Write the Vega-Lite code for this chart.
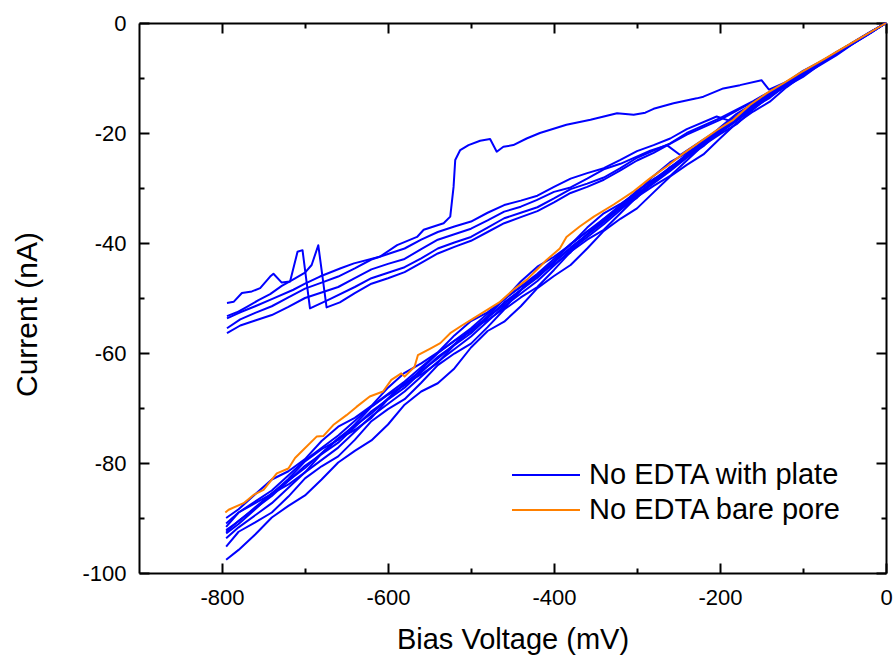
{
 "$schema": "https://vega.github.io/schema/vega-lite/v6.json",
 "width": 747,
 "height": 550,
 "autosize": {"type": "none"},
 "padding": {"left": 139, "top": 23, "right": 9, "bottom": 82},
 "background": "white",
 "config": {
  "view": {"stroke": null},
  "font": "Liberation Sans",
  "axis": {
   "grid": false,
   "domainColor": "#000000",
   "domainWidth": 2,
   "tickColor": "#000000",
   "tickWidth": 2,
   "labelFont": "Liberation Sans",
   "labelFontSize": 22,
   "labelColor": "#000000",
   "labelFlush": false,
   "labelOverlap": false,
   "labelBound": false,
   "titleFont": "Liberation Sans",
   "titleFontWeight": "normal",
   "titleColor": "#000000"
  }
 },
 "datasets": {
  "plate": [
   {"s":"B1","v":0,"i":0},{"s":"B1","v":-20,"i":-1.7},{"s":"B1","v":-40,"i":-3.5},{"s":"B1","v":-60,"i":-5.5},{"s":"B1","v":-80,"i":-7.1},{"s":"B1","v":-100,"i":-8.7},{"s":"B1","v":-120,"i":-10.8},{"s":"B1","v":-140,"i":-13.1},{"s":"B1","v":-160,"i":-14.7},{"s":"B1","v":-180,"i":-16.5},{"s":"B1","v":-200,"i":-19.0},{"s":"B1","v":-220,"i":-21.7},{"s":"B1","v":-240,"i":-23.6},{"s":"B1","v":-260,"i":-25.3},{"s":"B1","v":-280,"i":-27.8},{"s":"B1","v":-300,"i":-30.8},{"s":"B1","v":-320,"i":-32.9},{"s":"B1","v":-340,"i":-34.6},{"s":"B1","v":-360,"i":-37.2},{"s":"B1","v":-380,"i":-40.3},{"s":"B1","v":-400,"i":-42.5},{"s":"B1","v":-420,"i":-44.3},{"s":"B1","v":-440,"i":-47.0},{"s":"B1","v":-460,"i":-50.3},{"s":"B1","v":-480,"i":-52.6},{"s":"B1","v":-500,"i":-54.2},{"s":"B1","v":-520,"i":-56.8},{"s":"B1","v":-540,"i":-59.9},{"s":"B1","v":-560,"i":-61.9},{"s":"B1","v":-580,"i":-63.6},{"s":"B1","v":-600,"i":-66.3},{"s":"B1","v":-620,"i":-69.6},{"s":"B1","v":-640,"i":-71.8},{"s":"B1","v":-660,"i":-73.4},{"s":"B1","v":-680,"i":-76.0},{"s":"B1","v":-700,"i":-79.3},{"s":"B1","v":-720,"i":-81.5},{"s":"B1","v":-740,"i":-83.0},{"s":"B1","v":-760,"i":-85.7},{"s":"B1","v":-780,"i":-88.4},{"s":"B1","v":-795,"i":-90.0},
   {"s":"B2","v":0,"i":0},{"s":"B2","v":-20,"i":-1.8},{"s":"B2","v":-60,"i":-5.5},{"s":"B2","v":-100,"i":-9.1},{"s":"B2","v":-140,"i":-13.0},{"s":"B2","v":-180,"i":-17.3},{"s":"B2","v":-220,"i":-21.5},{"s":"B2","v":-260,"i":-26.3},{"s":"B2","v":-300,"i":-30.6},{"s":"B2","v":-340,"i":-35.6},{"s":"B2","v":-380,"i":-40.2},{"s":"B2","v":-420,"i":-45.6},{"s":"B2","v":-460,"i":-50.2},{"s":"B2","v":-500,"i":-55.5},{"s":"B2","v":-540,"i":-60.0},{"s":"B2","v":-580,"i":-65.2},{"s":"B2","v":-620,"i":-69.7},{"s":"B2","v":-660,"i":-75.0},{"s":"B2","v":-700,"i":-79.5},{"s":"B2","v":-740,"i":-85.0},{"s":"B2","v":-780,"i":-89.0},{"s":"B2","v":-795,"i":-91.0},
   {"s":"B3","v":0,"i":0},{"s":"B3","v":-20,"i":-1.9},{"s":"B3","v":-40,"i":-3.6},{"s":"B3","v":-60,"i":-5.3},{"s":"B3","v":-80,"i":-7.3},{"s":"B3","v":-100,"i":-9.5},{"s":"B3","v":-120,"i":-11.1},{"s":"B3","v":-140,"i":-12.9},{"s":"B3","v":-160,"i":-15.2},{"s":"B3","v":-180,"i":-17.7},{"s":"B3","v":-200,"i":-19.4},{"s":"B3","v":-220,"i":-21.5},{"s":"B3","v":-240,"i":-24.2},{"s":"B3","v":-260,"i":-26.8},{"s":"B3","v":-280,"i":-28.4},{"s":"B3","v":-300,"i":-30.5},{"s":"B3","v":-320,"i":-33.4},{"s":"B3","v":-340,"i":-36.1},{"s":"B3","v":-360,"i":-37.9},{"s":"B3","v":-380,"i":-40.2},{"s":"B3","v":-400,"i":-43.3},{"s":"B3","v":-420,"i":-46.2},{"s":"B3","v":-440,"i":-48.0},{"s":"B3","v":-460,"i":-50.2},{"s":"B3","v":-480,"i":-53.3},{"s":"B3","v":-500,"i":-56.1},{"s":"B3","v":-520,"i":-57.8},{"s":"B3","v":-540,"i":-60.0},{"s":"B3","v":-560,"i":-63.0},{"s":"B3","v":-580,"i":-65.9},{"s":"B3","v":-600,"i":-67.6},{"s":"B3","v":-620,"i":-69.8},{"s":"B3","v":-640,"i":-73.0},{"s":"B3","v":-660,"i":-75.8},{"s":"B3","v":-680,"i":-77.5},{"s":"B3","v":-700,"i":-79.7},{"s":"B3","v":-720,"i":-82.9},{"s":"B3","v":-740,"i":-85.6},{"s":"B3","v":-760,"i":-87.3},{"s":"B3","v":-780,"i":-89.0},{"s":"B3","v":-795,"i":-91.6},
   {"s":"B4","v":0,"i":0},{"s":"B4","v":-20,"i":-1.9},{"s":"B4","v":-60,"i":-5.5},{"s":"B4","v":-100,"i":-9.2},{"s":"B4","v":-140,"i":-13.2},{"s":"B4","v":-180,"i":-17.3},{"s":"B4","v":-220,"i":-22.0},{"s":"B4","v":-260,"i":-26.3},{"s":"B4","v":-300,"i":-31.2},{"s":"B4","v":-340,"i":-35.8},{"s":"B4","v":-380,"i":-41.0},{"s":"B4","v":-420,"i":-45.8},{"s":"B4","v":-460,"i":-51.2},{"s":"B4","v":-500,"i":-55.8},{"s":"B4","v":-540,"i":-61.0},{"s":"B4","v":-580,"i":-65.5},{"s":"B4","v":-620,"i":-71.0},{"s":"B4","v":-660,"i":-75.5},{"s":"B4","v":-700,"i":-80.9},{"s":"B4","v":-740,"i":-85.5},{"s":"B4","v":-780,"i":-90.6},{"s":"B4","v":-795,"i":-92.2},
   {"s":"B5","v":0,"i":0},{"s":"B5","v":-20,"i":-1.8},{"s":"B5","v":-40,"i":-3.7},{"s":"B5","v":-60,"i":-5.7},{"s":"B5","v":-80,"i":-7.4},{"s":"B5","v":-100,"i":-9.1},{"s":"B5","v":-120,"i":-11.2},{"s":"B5","v":-140,"i":-13.6},{"s":"B5","v":-160,"i":-15.4},{"s":"B5","v":-180,"i":-17.2},{"s":"B5","v":-200,"i":-19.7},{"s":"B5","v":-220,"i":-22.4},{"s":"B5","v":-240,"i":-24.4},{"s":"B5","v":-260,"i":-26.2},{"s":"B5","v":-280,"i":-28.8},{"s":"B5","v":-300,"i":-31.8},{"s":"B5","v":-320,"i":-33.8},{"s":"B5","v":-340,"i":-35.6},{"s":"B5","v":-360,"i":-38.4},{"s":"B5","v":-380,"i":-41.7},{"s":"B5","v":-400,"i":-43.9},{"s":"B5","v":-420,"i":-45.8},{"s":"B5","v":-440,"i":-48.6},{"s":"B5","v":-460,"i":-51.9},{"s":"B5","v":-480,"i":-54.0},{"s":"B5","v":-500,"i":-55.7},{"s":"B5","v":-520,"i":-58.5},{"s":"B5","v":-540,"i":-61.8},{"s":"B5","v":-560,"i":-63.9},{"s":"B5","v":-580,"i":-65.6},{"s":"B5","v":-600,"i":-68.4},{"s":"B5","v":-620,"i":-71.8},{"s":"B5","v":-640,"i":-74.0},{"s":"B5","v":-660,"i":-75.6},{"s":"B5","v":-680,"i":-78.3},{"s":"B5","v":-700,"i":-81.7},{"s":"B5","v":-720,"i":-83.9},{"s":"B5","v":-740,"i":-85.6},{"s":"B5","v":-760,"i":-88.4},{"s":"B5","v":-780,"i":-91.1},{"s":"B5","v":-795,"i":-92.8},
   {"s":"B6","v":0,"i":0},{"s":"B6","v":-20,"i":-1.9},{"s":"B6","v":-60,"i":-5.6},{"s":"B6","v":-100,"i":-9.3},{"s":"B6","v":-140,"i":-13.3},{"s":"B6","v":-180,"i":-17.8},{"s":"B6","v":-220,"i":-22.1},{"s":"B6","v":-260,"i":-26.9},{"s":"B6","v":-300,"i":-31.4},{"s":"B6","v":-340,"i":-36.6},{"s":"B6","v":-380,"i":-41.3},{"s":"B6","v":-420,"i":-46.9},{"s":"B6","v":-460,"i":-51.5},{"s":"B6","v":-500,"i":-57.0},{"s":"B6","v":-540,"i":-61.6},{"s":"B6","v":-580,"i":-67.0},{"s":"B6","v":-620,"i":-71.5},{"s":"B6","v":-660,"i":-77.2},{"s":"B6","v":-700,"i":-81.7},{"s":"B6","v":-740,"i":-87.3},{"s":"B6","v":-780,"i":-91.7},{"s":"B6","v":-795,"i":-93.7},
   {"s":"B7","v":0,"i":0},{"s":"B7","v":-20,"i":-2.0},{"s":"B7","v":-40,"i":-3.8},{"s":"B7","v":-60,"i":-5.5},{"s":"B7","v":-80,"i":-7.6},{"s":"B7","v":-100,"i":-9.8},{"s":"B7","v":-120,"i":-11.5},{"s":"B7","v":-140,"i":-13.3},{"s":"B7","v":-160,"i":-15.7},{"s":"B7","v":-180,"i":-18.4},{"s":"B7","v":-200,"i":-20.2},{"s":"B7","v":-220,"i":-22.2},{"s":"B7","v":-240,"i":-25.0},{"s":"B7","v":-260,"i":-27.8},{"s":"B7","v":-280,"i":-29.6},{"s":"B7","v":-300,"i":-31.6},{"s":"B7","v":-320,"i":-34.6},{"s":"B7","v":-340,"i":-37.6},{"s":"B7","v":-360,"i":-39.4},{"s":"B7","v":-380,"i":-41.6},{"s":"B7","v":-400,"i":-44.9},{"s":"B7","v":-420,"i":-48.0},{"s":"B7","v":-440,"i":-49.9},{"s":"B7","v":-460,"i":-52.1},{"s":"B7","v":-480,"i":-55.3},{"s":"B7","v":-500,"i":-58.3},{"s":"B7","v":-520,"i":-60.1},{"s":"B7","v":-540,"i":-62.2},{"s":"B7","v":-560,"i":-65.4},{"s":"B7","v":-580,"i":-68.4},{"s":"B7","v":-600,"i":-70.2},{"s":"B7","v":-620,"i":-72.4},{"s":"B7","v":-640,"i":-75.8},{"s":"B7","v":-660,"i":-78.8},{"s":"B7","v":-680,"i":-80.6},{"s":"B7","v":-700,"i":-82.8},{"s":"B7","v":-720,"i":-86.1},{"s":"B7","v":-740,"i":-89.0},{"s":"B7","v":-760,"i":-90.8},{"s":"B7","v":-780,"i":-92.5},{"s":"B7","v":-795,"i":-95.2},
   {"s":"B8","v":0,"i":0},{"s":"B8","v":-20,"i":-1.8},{"s":"B8","v":-60,"i":-5.5},{"s":"B8","v":-100,"i":-9.2},{"s":"B8","v":-140,"i":-13.2},{"s":"B8","v":-180,"i":-17.6},{"s":"B8","v":-220,"i":-21.8},{"s":"B8","v":-260,"i":-26.7},{"s":"B8","v":-300,"i":-31.0},{"s":"B8","v":-340,"i":-36.2},{"s":"B8","v":-380,"i":-40.8},{"s":"B8","v":-420,"i":-46.3},{"s":"B8","v":-460,"i":-50.8},{"s":"B8","v":-500,"i":-56.4},{"s":"B8","v":-540,"i":-60.7},{"s":"B8","v":-580,"i":-66.3},{"s":"B8","v":-620,"i":-70.6},{"s":"B8","v":-660,"i":-76.3},{"s":"B8","v":-700,"i":-80.5},{"s":"B8","v":-740,"i":-86.0},{"s":"B8","v":-780,"i":-90.5},{"s":"B8","v":-795,"i":-92.5},
   {"s":"B9","v":0,"i":0},{"s":"B9","v":-20,"i":-1.9},{"s":"B9","v":-40,"i":-3.8},{"s":"B9","v":-60,"i":-5.9},{"s":"B9","v":-80,"i":-7.7},{"s":"B9","v":-100,"i":-9.5},{"s":"B9","v":-120,"i":-11.7},{"s":"B9","v":-140,"i":-14.3},{"s":"B9","v":-160,"i":-16.1},{"s":"B9","v":-180,"i":-18.2},{"s":"B9","v":-200,"i":-21.0},{"s":"B9","v":-220,"i":-23.9},{"s":"B9","v":-240,"i":-25.8},{"s":"B9","v":-260,"i":-27.9},{"s":"B9","v":-280,"i":-30.8},{"s":"B9","v":-300,"i":-33.7},{"s":"B9","v":-320,"i":-35.6},{"s":"B9","v":-340,"i":-37.8},{"s":"B9","v":-360,"i":-41.0},{"s":"B9","v":-380,"i":-44.0},{"s":"B9","v":-400,"i":-46.0},{"s":"B9","v":-420,"i":-48.2},{"s":"B9","v":-440,"i":-51.5},{"s":"B9","v":-460,"i":-54.3},{"s":"B9","v":-480,"i":-56.0},{"s":"B9","v":-500,"i":-59.0},{"s":"B9","v":-520,"i":-62.8},{"s":"B9","v":-540,"i":-65.5},{"s":"B9","v":-560,"i":-67.0},{"s":"B9","v":-580,"i":-69.4},{"s":"B9","v":-600,"i":-73.0},{"s":"B9","v":-620,"i":-75.9},{"s":"B9","v":-640,"i":-77.8},{"s":"B9","v":-660,"i":-79.9},{"s":"B9","v":-680,"i":-83.0},{"s":"B9","v":-700,"i":-85.9},{"s":"B9","v":-720,"i":-87.8},{"s":"B9","v":-740,"i":-89.9},{"s":"B9","v":-760,"i":-93.0},{"s":"B9","v":-780,"i":-95.8},{"s":"B9","v":-795,"i":-97.6},
   {"s":"T","v":0,"i":0},{"s":"T","v":-40,"i":-3.6},{"s":"T","v":-80,"i":-7.2},{"s":"T","v":-120,"i":-10.7},{"s":"T","v":-141,"i":-12.1},{"s":"T","v":-150,"i":-10.4},{"s":"T","v":-176,"i":-11.3},{"s":"T","v":-196,"i":-11.9},{"s":"T","v":-220,"i":-13.4},{"s":"T","v":-228,"i":-13.7},{"s":"T","v":-256,"i":-14.6},{"s":"T","v":-280,"i":-15.6},{"s":"T","v":-290,"i":-16.3},{"s":"T","v":-304,"i":-16.7},{"s":"T","v":-324,"i":-16.4},{"s":"T","v":-340,"i":-17.0},{"s":"T","v":-356,"i":-17.6},{"s":"T","v":-385,"i":-18.5},{"s":"T","v":-417,"i":-20.0},{"s":"T","v":-433,"i":-21.0},{"s":"T","v":-449,"i":-22.2},{"s":"T","v":-461,"i":-22.5},{"s":"T","v":-469,"i":-23.4},{"s":"T","v":-477,"i":-21.1},{"s":"T","v":-489,"i":-21.4},{"s":"T","v":-503,"i":-22.2},{"s":"T","v":-513,"i":-23.1},{"s":"T","v":-519,"i":-24.9},{"s":"T","v":-521,"i":-29.8},{"s":"T","v":-525,"i":-35.2},{"s":"T","v":-533,"i":-36.4},{"s":"T","v":-557,"i":-37.6},{"s":"T","v":-565,"i":-38.9},{"s":"T","v":-589,"i":-40.4},{"s":"T","v":-610,"i":-42.5},{"s":"T","v":-641,"i":-43.7},{"s":"T","v":-657,"i":-44.6},{"s":"T","v":-682,"i":-46.1},{"s":"T","v":-700,"i":-47.4},{"s":"T","v":-714,"i":-48.5},{"s":"T","v":-740,"i":-50.2},{"s":"T","v":-760,"i":-51.5},{"s":"T","v":-778,"i":-52.6},{"s":"T","v":-794,"i":-53.7},
   {"s":"X1","v":0,"i":0},{"s":"X1","v":-40,"i":-3.6},{"s":"X1","v":-80,"i":-7.2},{"s":"X1","v":-120,"i":-10.9},{"s":"X1","v":-160,"i":-14.8},{"s":"X1","v":-188,"i":-17.8},{"s":"X1","v":-204,"i":-17.0},{"s":"X1","v":-240,"i":-19.3},{"s":"X1","v":-260,"i":-21.0},{"s":"X1","v":-280,"i":-22.2},{"s":"X1","v":-300,"i":-23.3},{"s":"X1","v":-320,"i":-24.9},{"s":"X1","v":-340,"i":-26.4},{"s":"X1","v":-360,"i":-27.3},{"s":"X1","v":-380,"i":-28.3},{"s":"X1","v":-400,"i":-29.8},{"s":"X1","v":-420,"i":-31.4},{"s":"X1","v":-440,"i":-32.3},{"s":"X1","v":-460,"i":-33.1},{"s":"X1","v":-480,"i":-34.5},{"s":"X1","v":-500,"i":-36.1},{"s":"X1","v":-520,"i":-37.0},{"s":"X1","v":-540,"i":-38.0},{"s":"X1","v":-560,"i":-39.4},{"s":"X1","v":-580,"i":-41.0},{"s":"X1","v":-600,"i":-42.0},{"s":"X1","v":-620,"i":-43.0},{"s":"X1","v":-640,"i":-44.6},{"s":"X1","v":-660,"i":-46.1},{"s":"X1","v":-680,"i":-47.2},{"s":"X1","v":-700,"i":-48.3},{"s":"X1","v":-720,"i":-49.9},{"s":"X1","v":-740,"i":-51.5},{"s":"X1","v":-760,"i":-52.7},{"s":"X1","v":-778,"i":-53.9},{"s":"X1","v":-794,"i":-55.5},
   {"s":"X2","v":0,"i":0},{"s":"X2","v":-40,"i":-3.6},{"s":"X2","v":-80,"i":-7.2},{"s":"X2","v":-120,"i":-10.8},{"s":"X2","v":-160,"i":-14.8},{"s":"X2","v":-200,"i":-19.2},{"s":"X2","v":-248,"i":-24.0},{"s":"X2","v":-264,"i":-22.2},{"s":"X2","v":-284,"i":-23.2},{"s":"X2","v":-320,"i":-25.6},{"s":"X2","v":-340,"i":-26.6},{"s":"X2","v":-360,"i":-28.3},{"s":"X2","v":-380,"i":-29.9},{"s":"X2","v":-400,"i":-30.7},{"s":"X2","v":-421,"i":-32.2},{"s":"X2","v":-440,"i":-33.4},{"s":"X2","v":-460,"i":-34.3},{"s":"X2","v":-480,"i":-35.9},{"s":"X2","v":-500,"i":-37.4},{"s":"X2","v":-520,"i":-38.4},{"s":"X2","v":-540,"i":-39.4},{"s":"X2","v":-560,"i":-41.1},{"s":"X2","v":-580,"i":-42.9},{"s":"X2","v":-600,"i":-43.8},{"s":"X2","v":-620,"i":-44.8},{"s":"X2","v":-640,"i":-46.4},{"s":"X2","v":-660,"i":-48.0},{"s":"X2","v":-680,"i":-49.0},{"s":"X2","v":-700,"i":-50.0},{"s":"X2","v":-720,"i":-51.6},{"s":"X2","v":-740,"i":-53.1},{"s":"X2","v":-760,"i":-54.1},{"s":"X2","v":-778,"i":-55.0},{"s":"X2","v":-794,"i":-56.4},
   {"s":"U1","v":0,"i":0},{"s":"U1","v":-40,"i":-3.6},{"s":"U1","v":-80,"i":-7.2},{"s":"U1","v":-120,"i":-10.8},{"s":"U1","v":-160,"i":-14.2},{"s":"U1","v":-200,"i":-17.3},{"s":"U1","v":-240,"i":-20.0},{"s":"U1","v":-260,"i":-21.9},{"s":"U1","v":-280,"i":-23.2},{"s":"U1","v":-300,"i":-24.5},{"s":"U1","v":-320,"i":-26.4},{"s":"U1","v":-340,"i":-28.1},{"s":"U1","v":-360,"i":-29.2},{"s":"U1","v":-380,"i":-30.2},{"s":"U1","v":-400,"i":-31.9},{"s":"U1","v":-420,"i":-33.5},{"s":"U1","v":-440,"i":-34.5},{"s":"U1","v":-460,"i":-35.5},{"s":"U1","v":-480,"i":-37.2},{"s":"U1","v":-500,"i":-38.9},{"s":"U1","v":-520,"i":-39.9},{"s":"U1","v":-540,"i":-41.0},{"s":"U1","v":-560,"i":-42.8},{"s":"U1","v":-580,"i":-44.4},{"s":"U1","v":-600,"i":-45.4},{"s":"U1","v":-620,"i":-46.4},{"s":"U1","v":-640,"i":-48.0},{"s":"U1","v":-670,"i":-50.2},{"s":"U1","v":-694,"i":-51.9},{"s":"U1","v":-703,"i":-41.3},{"s":"U1","v":-709,"i":-41.6},{"s":"U1","v":-718,"i":-47.0},{"s":"U1","v":-728,"i":-47.2},{"s":"U1","v":-738,"i":-45.6},{"s":"U1","v":-742,"i":-46.1},{"s":"U1","v":-754,"i":-48.2},{"s":"U1","v":-764,"i":-48.8},{"s":"U1","v":-776,"i":-49.1},{"s":"U1","v":-786,"i":-50.7},{"s":"U1","v":-794,"i":-50.9},
   {"s":"U2","v":0,"i":0},{"s":"U2","v":-40,"i":-3.6},{"s":"U2","v":-80,"i":-7.2},{"s":"U2","v":-120,"i":-10.8},{"s":"U2","v":-160,"i":-14.3},{"s":"U2","v":-200,"i":-17.6},{"s":"U2","v":-240,"i":-20.3},{"s":"U2","v":-280,"i":-23.6},{"s":"U2","v":-300,"i":-25.0},{"s":"U2","v":-320,"i":-26.8},{"s":"U2","v":-340,"i":-28.5},{"s":"U2","v":-360,"i":-29.8},{"s":"U2","v":-380,"i":-30.9},{"s":"U2","v":-400,"i":-32.6},{"s":"U2","v":-420,"i":-34.2},{"s":"U2","v":-440,"i":-35.3},{"s":"U2","v":-460,"i":-36.4},{"s":"U2","v":-480,"i":-38.0},{"s":"U2","v":-500,"i":-39.6},{"s":"U2","v":-520,"i":-40.7},{"s":"U2","v":-540,"i":-41.9},{"s":"U2","v":-560,"i":-43.6},{"s":"U2","v":-580,"i":-45.3},{"s":"U2","v":-600,"i":-46.4},{"s":"U2","v":-620,"i":-47.4},{"s":"U2","v":-640,"i":-49.1},{"s":"U2","v":-658,"i":-50.8},{"s":"U2","v":-674,"i":-51.7},{"s":"U2","v":-684,"i":-40.4},{"s":"U2","v":-692,"i":-44.0},{"s":"U2","v":-700,"i":-45.4},{"s":"U2","v":-714,"i":-46.6},{"s":"U2","v":-728,"i":-47.8},{"s":"U2","v":-742,"i":-49.3},{"s":"U2","v":-756,"i":-50.4},{"s":"U2","v":-770,"i":-51.6},{"s":"U2","v":-782,"i":-52.6},{"s":"U2","v":-794,"i":-53.3}
  ],
  "bare": [
   {"v":0,"i":0},{"v":-25,"i":-2.2},{"v":-50,"i":-4.4},{"v":-75,"i":-6.6},{"v":-104,"i":-9.1},{"v":-124,"i":-11.0},{"v":-144,"i":-12.8},{"v":-164,"i":-14.9},{"v":-184,"i":-17.6},{"v":-204,"i":-19.5},{"v":-224,"i":-21.6},{"v":-244,"i":-23.7},{"v":-264,"i":-26.1},{"v":-284,"i":-28.2},{"v":-304,"i":-30.6},{"v":-328,"i":-33.0},{"v":-352,"i":-35.2},{"v":-369,"i":-37.0},{"v":-385,"i":-38.9},{"v":-393,"i":-41.0},{"v":-409,"i":-43.1},{"v":-421,"i":-44.9},{"v":-433,"i":-46.7},{"v":-449,"i":-48.5},{"v":-465,"i":-50.7},{"v":-481,"i":-52.2},{"v":-497,"i":-53.7},{"v":-511,"i":-55.0},{"v":-525,"i":-56.4},{"v":-537,"i":-58.2},{"v":-549,"i":-59.2},{"v":-564,"i":-60.4},{"v":-568,"i":-62.5},{"v":-580,"i":-64.3},{"v":-584,"i":-63.7},{"v":-596,"i":-64.9},{"v":-606,"i":-67.0},{"v":-622,"i":-67.9},{"v":-638,"i":-69.8},{"v":-650,"i":-71.3},{"v":-666,"i":-73.1},{"v":-678,"i":-75.1},{"v":-686,"i":-75.2},{"v":-702,"i":-77.6},{"v":-712,"i":-79.1},{"v":-720,"i":-81.0},{"v":-734,"i":-81.9},{"v":-750,"i":-84.9},{"v":-762,"i":-85.8},{"v":-774,"i":-87.3},{"v":-792,"i":-88.5},{"v":-796,"i":-89.0}
  ]
 },
 "layer": [
  {
   "data": {"name": "plate"},
   "mark": {"type": "line", "strokeWidth": 2, "strokeJoin": "round"},
   "encoding": {
    "x": {
     "field": "v", "type": "quantitative",
     "scale": {"domain": [-900, 0], "nice": false, "zero": false},
     "axis": {
      "orient": "bottom",
      "values": [-800, -700, -600, -500, -400, -300, -200, -100, 0],
      "labelExpr": "datum.value % 200 == 0 ? '' + datum.value : ''",
      "tickSize": {"condition": {"test": "datum.value % 200 == 0", "value": -10}, "value": -5},
      "labelPadding": 24,
      "title": "Bias Voltage (mV)",
      "titleFontSize": 29,
      "titleBaseline": "alphabetic",
      "titleY": 75
     }
    },
    "y": {
     "field": "i", "type": "quantitative",
     "scale": {"domain": [-100, 0], "nice": false, "zero": false},
     "axis": {
      "orient": "left",
      "values": [-100, -90, -80, -70, -60, -50, -40, -30, -20, -10, 0],
      "labelExpr": "datum.value % 20 == 0 ? '' + datum.value : ''",
      "tickSize": {"condition": {"test": "datum.value % 20 == 0", "value": -10}, "value": -5},
      "labelPadding": 23,
      "title": "Current (nA)",
      "titleFontSize": 30,
      "titleAngle": 270,
      "titleBaseline": "alphabetic",
      "titleX": -103,
      "titleY": 291
     }
    },
    "detail": {"field": "s", "type": "nominal"},
    "order": {"value": null},
    "color": {
     "datum": "No EDTA with plate", "type": "nominal",
     "scale": {"domain": ["No EDTA with plate", "No EDTA bare pore"], "range": ["#0000ff", "#ff8000"]},
     "legend": {"orient": "none", "legendX": 389, "legendY": 434, "title": null, "symbolType": "M-2,0H2", "symbolSize": 1156, "symbolStrokeWidth": 2, "labelFont": "Liberation Sans", "labelFontSize": 29, "labelLimit": 500, "labelColor": "#000000", "labelOffset": 25, "padding": 0, "rowPadding": 2}
    }
   }
  },
  {
   "data": {"name": "bare"},
   "mark": {"type": "line", "strokeWidth": 2, "strokeJoin": "round"},
   "encoding": {
    "x": {
     "field": "v", "type": "quantitative",
     "axis": {
      "orient": "top",
      "values": [-800, -700, -600, -500, -400, -300, -200, -100, 0],
      "labels": false,
      "tickSize": {"condition": {"test": "datum.value % 200 == 0", "value": -10}, "value": -5},
      "title": null
     }
    },
    "y": {
     "field": "i", "type": "quantitative",
     "axis": {
      "orient": "right",
      "values": [-100, -90, -80, -70, -60, -50, -40, -30, -20, -10, 0],
      "labels": false,
      "tickSize": {"condition": {"test": "datum.value % 20 == 0", "value": -10}, "value": -5},
      "title": null
     }
    },
    "order": {"value": null},
    "color": {
     "datum": "No EDTA bare pore", "type": "nominal",
     "legend": {"orient": "none", "legendX": 389, "legendY": 434, "title": null, "symbolType": "M-2,0H2", "symbolSize": 1156, "symbolStrokeWidth": 2, "labelFont": "Liberation Sans", "labelFontSize": 29, "labelLimit": 500, "labelColor": "#000000", "labelOffset": 25, "padding": 0, "rowPadding": 2}
    }
   }
  }
 ],
 "resolve": {"axis": {"x": "independent", "y": "independent"}}
}
